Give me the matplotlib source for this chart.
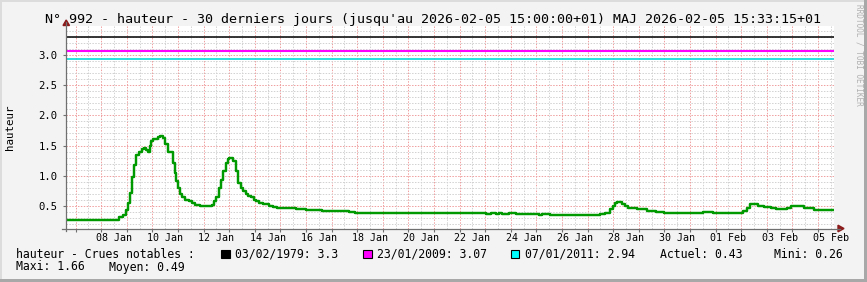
import numpy as np
import matplotlib
matplotlib.use('Agg')
import matplotlib.pyplot as plt
import matplotlib.dates as mdates
from matplotlib.ticker import FixedLocator, FuncFormatter, NullFormatter
from matplotlib.patches import Rectangle, Polygon
from matplotlib.lines import Line2D

# ---------------- data ----------------
start_time = '2026-01-06T15:00'
period_hours = 720
hours = [0, 32, 50, 53, 56, 58, 60, 62, 64, 66, 68, 71, 73, 75, 77, 79, 80, 82, 86, 88,
         91, 93, 96, 100, 102, 103, 105, 107, 109, 112, 115, 118, 121, 126, 129, 137, 139,
         141, 143, 145, 147, 150, 152, 153, 157, 159, 161, 164, 166, 169, 171, 173, 176,
         178, 181, 185, 190, 194, 198, 216, 225, 240, 265, 271, 291, 307, 324, 394, 398,
         403, 406, 409, 415, 422, 443, 446, 454, 501, 505, 510, 513, 515, 517, 521, 524,
         527, 535, 545, 553, 561, 597, 607, 635, 638, 641, 649, 654, 661, 666, 676, 680,
         688, 692, 701]
levels = [0.26, 0.27, 0.31, 0.35, 0.43, 0.54, 0.71, 0.98, 1.18, 1.35, 1.40, 1.45, 1.46,
          1.43, 1.40, 1.50, 1.58, 1.61, 1.64, 1.66, 1.63, 1.53, 1.39, 1.21, 1.045, 0.905,
          0.79, 0.70, 0.64, 0.60, 0.575, 0.545, 0.52, 0.50, 0.49, 0.52, 0.575, 0.655, 0.795,
          0.93, 1.07, 1.21, 1.27, 1.295, 1.24, 1.07, 0.88, 0.79, 0.74, 0.70, 0.665, 0.64,
          0.60, 0.575, 0.545, 0.53, 0.50, 0.48, 0.47, 0.45, 0.43, 0.42, 0.40, 0.385, 0.375,
          0.39, 0.375, 0.36, 0.375, 0.36, 0.375, 0.36, 0.375, 0.36, 0.345, 0.36, 0.345,
          0.36, 0.39, 0.445, 0.505, 0.545, 0.56, 0.535, 0.50, 0.47, 0.445, 0.42, 0.405,
          0.39, 0.405, 0.39, 0.42, 0.47, 0.53, 0.505, 0.48, 0.465, 0.445, 0.47, 0.50, 0.49,
          0.465, 0.43]

floods_dates = ['03/02/1979', '23/01/2009', '07/01/2011']
floods_values = [3.3, 3.07, 2.94]
floods_colors = ['#000000', '#ff00ff', '#00ffff']

x_tick_labels = ['08 Jan', '10 Jan', '12 Jan', '14 Jan', '16 Jan', '18 Jan', '20 Jan',
                 '22 Jan', '24 Jan', '26 Jan', '28 Jan', '30 Jan', '01 Feb', '03 Feb', '05 Feb']
y_ticks = [0.5, 1.0, 1.5, 2.0, 2.5, 3.0]
y_tick_labels = ['0.5', '1.0', '1.5', '2.0', '2.5', '3.0']

stat_actuel = 0.43
stat_mini = 0.26
stat_maxi = 1.66
stat_moyen = 0.49

title = ("N° 992 - hauteur - 30 derniers jours (jusqu'au 2026-02-05 15:00:00+01) "
         "MAJ 2026-02-05 15:33:15+01")

# ---------------- figure ----------------
W, H = 867, 282
MONO = ['DejaVu Sans Mono']
fig = plt.figure(figsize=(W / 100, H / 100), dpi=100, facecolor='#f3f3f3')


def fx(px):
    return px / W


def fy(py):
    return 1 - py / H


x0, x1, ytop, ybot = 66, 834, 26, 228.5
ax = fig.add_axes([fx(x0), fy(ybot), fx(x1) - fx(x0), fy(ytop) - fy(ybot)])
ax.set_facecolor('white')

t0 = np.datetime64(start_time)
times = t0 + np.array(hours, dtype='timedelta64[h]')
t_end = t0 + np.timedelta64(period_hours, 'h')
xs = np.append(times, t_end)
ys = np.append(levels, levels[-1])

ax.set_xlim(t0, t_end)
ax.set_ylim(0.125, 3.48)

# grid
ax.xaxis.set_major_locator(mdates.DayLocator())
ax.xaxis.set_minor_locator(mdates.HourLocator(byhour=[12]))
ax.xaxis.set_major_formatter(NullFormatter())


def xfmt(v, pos):
    s = mdates.num2date(v).strftime('%d %b')
    return s if s in x_tick_labels else ''


ax.xaxis.set_minor_formatter(FuncFormatter(xfmt))
ax.yaxis.set_major_locator(FixedLocator(y_ticks))
ax.yaxis.set_major_formatter(FuncFormatter(lambda v, p: y_tick_labels[y_ticks.index(round(v, 2))]
                                           if round(v, 2) in y_ticks else ''))
ax.yaxis.set_minor_locator(FixedLocator([round(0.2 + 0.1 * i, 1) for i in range(33)
                                         if round(0.2 + 0.1 * i, 1) not in y_ticks]))

dash = (0, (1.44, 1.44))
ax.grid(which='major', axis='both', color='#f0a0a0', linestyle=dash, linewidth=0.72)
ax.grid(which='minor', axis='both', color='#d2d2d2', linestyle=dash, linewidth=0.72)
ax.set_axisbelow(True)

ax.tick_params(axis='x', which='major', length=2.5, color='#707070', direction='out')
ax.tick_params(axis='x', which='minor', length=0, pad=3.0, labelsize=7.2)
ax.tick_params(axis='y', which='major', length=2.5, color='#707070', pad=3.5, labelsize=7.6)
ax.tick_params(axis='y', which='minor', length=0)
for lab in ax.get_xticklabels(minor=True) + ax.get_yticklabels():
    lab.set_family(MONO)

for s in ax.spines.values():
    s.set_visible(False)

# flood reference lines
line_colors = ['#000000', '#ff00ff', '#10dada']
lws = [1.1, 1.5, 1.25]
for v, c, lw in zip(floods_values, line_colors, lws):
    ax.axhline(v, color=c, lw=lw, zorder=3)

# series
ax.step(xs, ys, where='post', color='#009a00', lw=1.75, zorder=4)

# axes lines and arrows
axcol = '#707070'
fig.add_artist(Line2D([fx(x0), fx(x0)], [fy(ybot + 2), fy(22)], color=axcol, lw=0.9))
fig.add_artist(Line2D([fx(62), fx(840)], [fy(ybot), fy(ybot)], color=axcol, lw=0.9))
fig.add_artist(Polygon([[fx(63), fy(25.5)], [fx(69.5), fy(25.5)], [fx(66.2), fy(20)]],
                       closed=True, color='#8b1a1a'))
fig.add_artist(Polygon([[fx(838), fy(ybot - 3.3)], [fx(838), fy(ybot + 3.3)], [fx(844), fy(ybot)]],
                       closed=True, color='#8b1a1a'))

# title & y label
fig.text(fx(433), fy(19), title, ha='center', va='center', fontsize=9.6, family=MONO)
fig.text(fx(10), fy(127), 'hauteur', ha='center', va='center', rotation=90,
         fontsize=7.8, family=MONO)

# watermark
fig.text(fx(858.5), fy(4), 'RRDTOOL / TOBI OETIKER', ha='center', va='top', rotation=270,
         fontsize=5.6, family=MONO, color='#b0b0b0')

# legend
fs = 8.3
ly1, ly2 = 254, 267
fig.text(fx(16), fy(ly1), 'hauteur - Crues notables :', va='center', fontsize=fs, family=MONO)
box_x = [221, 363, 511]
text_x = [235, 377, 525]
for bx, tx, d, v, c in zip(box_x, text_x, floods_dates, floods_values, floods_colors):
    fig.add_artist(Rectangle((fx(bx), fy(ly1 + 4.2)), 8.5 / W, 8.5 / H, facecolor=c,
                             edgecolor='black', lw=0.8))
    fig.text(fx(tx), fy(ly1), f'{d}: {v:g}', va='center', fontsize=fs, family=MONO)
fig.text(fx(660), fy(ly1), f'Actuel: {stat_actuel:.2f}', va='center', fontsize=fs, family=MONO)
fig.text(fx(774), fy(ly1), f'Mini: {stat_mini:.2f}', va='center', fontsize=fs, family=MONO)
fig.text(fx(16), fy(ly2), f'Maxi: {stat_maxi:.2f}', va='center', fontsize=fs, family=MONO)
fig.text(fx(109), fy(ly2), f'Moyen: {stat_moyen:.2f}', va='center', fontsize=fs, family=MONO)

# 3D frame
fig.add_artist(Rectangle((0, fy(2)), 1, 2 / H, facecolor='#dcdcdc', edgecolor='none'))
fig.add_artist(Rectangle((0, 0), 2 / W, 1, facecolor='#dcdcdc', edgecolor='none'))
fig.add_artist(Rectangle((0, 0), 1, 3 / H, facecolor='#a8a8a8', edgecolor='none'))
fig.add_artist(Rectangle((fx(864), 0), 3 / W, 1, facecolor='#a8a8a8', edgecolor='none'))

fig.savefig('out.png', dpi=100, facecolor=fig.get_facecolor())
